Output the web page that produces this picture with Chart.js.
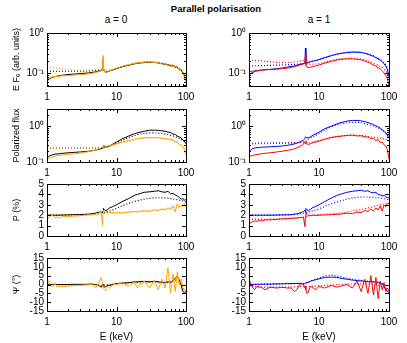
<!DOCTYPE html>
<html><head><meta charset="utf-8">
<script src="https://cdn.jsdelivr.net/npm/chart.js@4/dist/chart.umd.min.js"></script>
<style>
html,body{margin:0;padding:0;background:#fff;}
#wrap{position:relative;width:407px;height:343px;overflow:hidden;font-family:"Liberation Sans",Arial,sans-serif;}
canvas{position:absolute;left:0;top:0;}
.t{position:absolute;transform:translate(-50%,-50%);white-space:nowrap;color:#000;}
</style></head><body>
<div id="wrap">
<div class="t" style="left:216px;top:8px;font-weight:bold;font-size:9.5px">Parallel polarisation</div>
<div class="t" style="left:116px;top:19px;font-size:10px">a = 0</div>
<div class="t" style="left:319px;top:19px;font-size:10px">a = 1</div>
<canvas id="c0" width="407" height="343"></canvas>
<canvas id="c1" width="407" height="343"></canvas>
<canvas id="c2" width="407" height="343"></canvas>
<canvas id="c3" width="407" height="343"></canvas>
<canvas id="c4" width="407" height="343"></canvas>
<canvas id="c5" width="407" height="343"></canvas>
<canvas id="c6" width="407" height="343"></canvas>
<canvas id="c7" width="407" height="343"></canvas>
</div>
<script>
// ---------- energies (keV) ----------
const energy = [1,1.1,1.2,1.3,1.4,1.5,1.7, 2,2.5,3,3.5,4,4.5,5,5.5,6, 6.3,6.4,6.5,6.7,7,7.5,8,9, 10,12,15,18,20,25,30,35,40,45,50, 55,60,65,70,75,80,85,90,95,100];
const energyModel = [1,1.5,2,3,4,5,6, 6.4,7,8, 10,12,15,20,25,30, 40,50,60,70,80,90,100];

// ---------- tick values / labels ----------
const xTickValues = [1,2,3,4,5,6,7,8,9,10,20,30,40,50,60,70,80,90,100];
const xTickLabels = ['1','','','','','','','','','10','','','','','','','','','100'];
const fluxTickValues = [0.05,0.06,0.07,0.08,0.09,0.1,0.2,0.3,0.4,0.5,0.6,0.7,0.8,0.9,1];
const fluxTickLabels = ['','','','','','10\u207B\u00B9','','','','','','','','','10\u2070'];
const polFluxTickValues = [0.1,0.2,0.3,0.4,0.5,0.6,0.7,0.8,0.9,1,2,3];
const polFluxTickLabels = ['10\u207B\u00B9','','','','','','','','','10\u2070','',''];
const degTickValues = [0,1,2,3,4,5];
const degTickLabels = ['0','1','2','3','4','5'];
const angTickValues = [-15,-10,-5,0,5,10,15];
const angTickLabels = ['-15','-10','-5','0','5','10','15'];

// ---------- E F_E, a = 0 ----------
const fluxA0Black = [0.063,0.072,0.078,0.081,0.083,0.085,0.088, 0.091,0.094,0.096,0.098,0.1,0.103,0.106,0.11,0.114, 0.118,0.22,0.115,0.108,0.104,0.107,0.112,0.12, 0.128,0.142,0.156,0.168,0.175,0.182,0.185,0.183,0.178,0.17,0.165, 0.158,0.15,0.152,0.138,0.14,0.12,0.118,0.1,0.085,0.063];
const fluxA0Orange = [0.068,0.075,0.08,0.082,0.08,0.083,0.085, 0.086,0.088,0.09,0.092,0.095,0.098,0.102,0.108,0.113, 0.118,0.27,0.118,0.108,0.104,0.108,0.113,0.122, 0.13,0.145,0.16,0.172,0.178,0.186,0.188,0.182,0.18,0.168,0.168, 0.155,0.16,0.142,0.15,0.128,0.13,0.11,0.105,0.08,0.06];
const fluxA0BlackModel = [0.11,0.11,0.11,0.11,0.112,0.115,0.12, 0.125,0.11,0.115, 0.13,0.145,0.16,0.178,0.185,0.188, 0.182,0.168,0.158,0.145,0.13,0.11,0.07];
const fluxA0OrangeModel = [0.14,0.13,0.122,0.117,0.117,0.12,0.125, 0.13,0.112,0.117, 0.132,0.147,0.162,0.18,0.188,0.19, 0.184,0.17,0.158,0.145,0.128,0.108,0.07];

// ---------- E F_E, a = 1 ----------
const fluxA1Blue = [0.088,0.1,0.108,0.112,0.115,0.117,0.12, 0.123,0.128,0.133,0.14,0.145,0.15,0.158,0.165,0.172, 0.178,0.42,0.18,0.178,0.183,0.19,0.196,0.205, 0.215,0.24,0.27,0.295,0.305,0.322,0.33,0.33,0.325,0.31,0.295, 0.275,0.26,0.24,0.225,0.21,0.19,0.17,0.148,0.12,0.08];
const fluxA1Red = [0.105,0.11,0.113,0.115,0.117,0.118,0.12, 0.121,0.124,0.127,0.132,0.137,0.143,0.152,0.16,0.168, 0.175,0.29,0.155,0.142,0.137,0.138,0.142,0.15, 0.158,0.175,0.195,0.21,0.218,0.225,0.225,0.22,0.212,0.198,0.185, 0.172,0.158,0.148,0.135,0.125,0.112,0.1,0.085,0.07,0.047];
const fluxA1BlueModel = [0.15,0.152,0.155,0.158,0.162,0.166,0.172, 0.178,0.185,0.195, 0.215,0.24,0.275,0.31,0.33,0.338, 0.33,0.3,0.268,0.232,0.2,0.16,0.1];
const fluxA1RedModel = [0.21,0.2,0.19,0.18,0.185,0.195,0.205, 0.21,0.165,0.165, 0.17,0.185,0.205,0.225,0.232,0.235, 0.225,0.2,0.175,0.155,0.135,0.115,0.075];

// ---------- polarized flux, a = 0 ----------
const polFluxA0Black = [0.13,0.15,0.16,0.165,0.168,0.17,0.175, 0.18,0.186,0.19,0.195,0.2,0.207,0.215,0.225,0.235, 0.245,0.25,0.27,0.265,0.26,0.27,0.285,0.32, 0.36,0.44,0.53,0.61,0.65,0.72,0.77,0.77,0.76,0.74,0.72, 0.68,0.67,0.6,0.59,0.52,0.5,0.47,0.41,0.38,0.32];
const polFluxA0Orange = [0.115,0.13,0.14,0.145,0.15,0.152,0.158, 0.162,0.17,0.178,0.185,0.195,0.205,0.218,0.232,0.25, 0.27,0.26,0.3,0.29,0.275,0.28,0.29,0.305, 0.32,0.36,0.4,0.43,0.45,0.47,0.48,0.475,0.48,0.46,0.45, 0.44,0.43,0.41,0.37,0.35,0.31,0.3,0.26,0.22,0.16];
const polFluxA0BlackModel = [0.245,0.245,0.245,0.245,0.245,0.247,0.25, 0.25,0.258,0.28, 0.34,0.4,0.48,0.58,0.63,0.65, 0.64,0.6,0.56,0.51,0.45,0.4,0.34];
const polFluxA0OrangeModel = [0.245,0.245,0.245,0.245,0.245,0.247,0.25, 0.25,0.258,0.27, 0.31,0.345,0.39,0.44,0.46,0.47, 0.47,0.44,0.42,0.37,0.32,0.27,0.2];

// ---------- polarized flux, a = 1 ----------
const polFluxA1Blue = [0.2,0.23,0.245,0.25,0.255,0.258,0.262, 0.266,0.272,0.28,0.29,0.305,0.32,0.345,0.375,0.41, 0.45,0.5,0.5,0.48,0.47,0.5,0.54,0.61, 0.68,0.84,1.0,1.15,1.24,1.38,1.44,1.44,1.4,1.34,1.26, 1.18,1.1,1.02,0.95,0.88,0.8,0.72,0.64,0.55,0.45];
const polFluxA1Red = [0.14,0.15,0.158,0.162,0.166,0.17,0.175, 0.18,0.19,0.2,0.21,0.22,0.235,0.255,0.28,0.31, 0.37,0.33,0.34,0.32,0.31,0.32,0.34,0.36, 0.38,0.43,0.48,0.51,0.52,0.55,0.56,0.53,0.54,0.5,0.5, 0.45,0.46,0.4,0.42,0.35,0.36,0.3,0.28,0.22,0.12];
const polFluxA1BlueModel = [0.33,0.335,0.338,0.34,0.345,0.35,0.36, 0.365,0.43,0.5, 0.62,0.78,0.95,1.15,1.24,1.28, 1.26,1.12,1.0,0.9,0.76,0.64,0.5];
const polFluxA1RedModel = [0.32,0.325,0.328,0.33,0.335,0.34,0.35, 0.355,0.34,0.36, 0.4,0.44,0.49,0.53,0.55,0.56, 0.55,0.52,0.49,0.47,0.45,0.43,0.4];

// ---------- polarization degree P (%), a = 0 ----------
const polDegA0Black = [2.0,2.0,2.0,2.0,2.0,2.0,2.02, 2.03,2.05,2.06,2.08,2.1,2.15,2.2,2.28,2.35, 2.2,2.4,2.65,2.55,2.42,2.55,2.7,2.85, 3.0,3.3,3.6,3.9,4.0,4.2,4.25,4.3,4.35,4.25,4.2, 4.3,4.05,4.1,3.95,3.85,3.7,3.55,3.6,3.45,3.5];
const polDegA0Orange = [1.6,1.9,2.0,1.75,1.85,1.7,1.9, 1.85,1.92,1.95,2.0,2.02,2.05,2.1,2.12,2.4, 1.0,2.2,2.5,2.4,2.3,2.25,2.3,2.2, 2.25,2.2,2.3,2.35,2.3,2.45,2.35,2.5,2.45,2.6,2.5, 2.7,2.55,2.9,2.3,3.1,2.7,2.95,2.85,3.1,3.2];
const polDegA0BlackModel = [2.0,2.0,2.02,2.05,2.08,2.12,2.2, 2.25,2.3,2.4, 2.65,2.9,3.15,3.4,3.55,3.62, 3.68,3.66,3.6,3.52,3.45,3.38,3.3];
const polDegA0OrangeModel = [2.0,2.0,2.0,2.02,2.05,2.08,2.12, 2.15,2.2,2.22, 2.25,2.28,2.3,2.35,2.4,2.45, 2.5,2.6,2.7,2.8,2.9,3.0,3.1];

// ---------- polarization degree P (%), a = 1 ----------
const polDegA1Blue = [2.0,2.0,2.0,2.0,2.0,2.0,2.0, 2.0,2.02,2.03,2.04,2.05,2.1,2.15,2.25,2.35, 2.5,2.3,2.65,2.55,2.45,2.55,2.7,2.85, 3.0,3.3,3.65,3.9,4.0,4.2,4.3,4.35,4.4,4.3,4.35, 4.2,4.15,4.2,4.0,3.95,3.85,3.9,3.75,3.7,3.65];
const polDegA1Red = [1.15,1.35,1.45,1.4,1.5,1.45,1.55, 1.55,1.6,1.65,1.68,1.7,1.72,1.75,1.78,1.8, 0.9,1.8,2.3,2.1,1.95,1.95,2.0,1.98, 2.0,2.02,2.05,2.08,2.1,2.2,2.15,2.3,2.25,2.45,2.35, 2.6,2.4,2.7,2.5,2.9,2.4,3.0,2.8,3.1,3.15];
const polDegA1BlueModel = [2.0,2.0,2.0,2.02,2.05,2.1,2.2, 2.25,2.3,2.4, 2.6,2.85,3.1,3.35,3.55,3.65, 3.75,3.75,3.72,3.68,3.62,3.55,3.5];
const polDegA1RedModel = [1.6,1.6,1.62,1.65,1.7,1.75,1.8, 1.85,1.95,2.0, 2.05,2.1,2.15,2.2,2.3,2.4, 2.55,2.7,2.85,2.95,3.05,3.1,3.15];

// ---------- polarization angle Psi (deg), a = 0 ----------
const polAngA0Black = [0,0,0,0,0,0,0, 0,0.1,0.1,0.1,0.2,0.2,0,-0.5,-1.5, -1,0,-1,-1.5,-1.2,-0.5,-0.5,0, 0.5,0.8,1.0,1.5,1.5,1.8,1.5,1.8,1.5,1.2,1.0, 1.5,1.2,2.0,3.5,4.5,2.5,0,-4,-4.5,-4];
const polAngA0Orange = [4,0,-1.5,0.8,-1.5,-1,-1.2, -1,-0.5,-0.5,-0.3,-0.2,0.5,-2,0.5,4, 1,-1,-2,-3,-3.5,-1,-2,0, 0,1,-1,1.5,-2,2,-2,2.5,-3,3,-2, 9.5,-5,6,-4,7,0,3,-2,-3,-4];
const polAngA0BlackModel = [0,0,0,0,0,0,-0.5, -0.5,-0.5,0, 0.5,0.8,1,1.3,1.5,1.5, 1.5,1.2,1.5,2.5,1.5,-2,-4];
const polAngA0OrangeModel = [0,-0.5,-0.5,-0.3,-0.2,0,-0.8, -1,-1,-0.5, 0,0.3,0.5,0.8,1,1, 1,0.8,1,2,1,-2,-4];

// ---------- polarization angle Psi (deg), a = 1 ----------
const polAngA1Blue = [0,0,0.1,0.1,0.1,0.1,0.2, 0.2,0.3,0.4,0.5,0.5,0.6,0.6,0.5,0, 0.5,0.8,1.0,1.0,1.2,1.8,2.2,2.7, 3.2,4.0,4.2,4.0,3.6,3.0,2.5,2.2,2.0,1.8,1.5, 1.6,1.5,1.3,1.0,0.8,0.5,-1,-3,-4,-4.5];
const polAngA1Red = [3,-1,-3,-1,-1.5,-1.5,-3, -1.5,-2,-1.5,-2,-2,-4,-2,1,0, -2,-1,-3,-5,-4.5,-1,-1.5,-3, -1,-2,-0.5,-1.5,-1,0,-2,2,-4,3,-5, 5,-6,4,-8,2,-3,1,-4,-2,-3];
const polAngA1BlueModel = [0,0.2,0.3,0.4,0.5,0.6,0.5, 0.8,1.3,2.3, 3.6,4.8,5.3,4.5,3.6,3.0, 2.3,1.8,1.6,1.2,0.5,-2,-4];
const polAngA1RedModel = [-1,-1.5,-1.5,-1.5,-1.5,-1.2,-1, -1,-1,-1, -0.8,-0.5,-0.3,0,0.2,0.3, 0.3,0.2,0,-0.5,-1,-2,-3];

// ---------- colours ----------
const BLACK = '#000000', ORANGE = '#FFA500', BLUE = '#0000FF', RED = '#FF0000';
const FONT = '"Liberation Sans", Arial, sans-serif';

function series(xs, ys, color, dotted, order) {
  return {
    data: xs.map((e, i) => ({x: e, y: ys[i]})),
    borderColor: color,
    borderWidth: dotted ? 1.2 : 1,
    borderDash: dotted ? [1, 2] : [],
    pointRadius: 0, fill: false, tension: 0, order: order
  };
}

// inward ticks + frame drawn with the chart's own scales
const framePlugin = {
  id: 'frame',
  afterDatasetsDraw(chart, args, opts) {
    const ctx = chart.ctx, a = chart.chartArea;
    const xs = chart.scales.x, ys = chart.scales.y;
    ctx.save();
    ctx.strokeStyle = '#000'; ctx.lineWidth = 1;
    ctx.beginPath();
    xs.ticks.forEach((t, i) => {
      const p = Math.round(xs.getPixelForValue(t.value)) + 0.5;
      const len = opts.xLabels[i] !== '' ? 4 : 2;
      ctx.moveTo(p, a.bottom); ctx.lineTo(p, a.bottom - len);
      ctx.moveTo(p, a.top); ctx.lineTo(p, a.top + len);
    });
    ys.ticks.forEach((t, i) => {
      const p = Math.round(ys.getPixelForValue(t.value)) + 0.5;
      const len = opts.yLabels[i] !== '' ? 4 : 2;
      ctx.moveTo(a.left, p); ctx.lineTo(a.left + len, p);
      ctx.moveTo(a.right, p); ctx.lineTo(a.right - len, p);
    });
    ctx.stroke();
    ctx.strokeRect(Math.round(a.left) + 0.5, Math.round(a.top) + 0.5, Math.round(a.right - a.left), Math.round(a.bottom - a.top));
    ctx.restore();
  }
};

function makePanel(id, box, yType, yMin, yMax, yVals, yLabs, datasets, yTitle, xTitle) {
  const yW = 40, xH = xTitle ? 32 : 20;
  new Chart(document.getElementById(id), {
    type: 'line',
    data: {datasets: datasets},
    options: {
      responsive: false, animation: false, devicePixelRatio: 1,
      layout: {padding: {left: box.L - yW, top: box.T, right: 407 - box.R, bottom: 343 - box.B - xH}},
      plugins: {legend: {display: false}, tooltip: {enabled: false}, title: {display: false},
                frame: {xLabels: xTickLabels, yLabels: yLabs}},
      scales: {
        x: {
          type: 'logarithmic', min: 1, max: 100,
          afterBuildTicks: s => { s.ticks = xTickValues.map(v => ({value: v})); },
          afterFit: s => { s.height = xH; },
          grid: {display: false, drawTicks: false}, border: {display: false},
          ticks: {autoSkip: false, maxRotation: 0, minRotation: 0, padding: 5, color: '#000',
                  font: {family: FONT, size: 10},
                  callback: (v, i) => xTickLabels[i]},
          title: {display: !!xTitle, text: xTitle || '', color: '#000', padding: 0,
                  font: {family: FONT, size: 10}}
        },
        y: {
          type: yType, min: yMin, max: yMax,
          afterBuildTicks: s => { s.ticks = yVals.map(v => ({value: v})); },
          afterFit: s => { s.width = yW; },
          grid: {display: false, drawTicks: false}, border: {display: false},
          ticks: {autoSkip: false, padding: 3, color: '#000',
                  font: {family: FONT, size: 10},
                  callback: (v, i) => yLabs[i]},
          title: {display: !!yTitle, text: yTitle || '', color: '#000',
                  font: {family: FONT, size: 9}}
        }
      }
    },
    plugins: [framePlugin]
  });
}

const LEFT = {L: 47, R: 186}, RIGHT = {L: 249, R: 389};
const ROWS = [{T: 33, B: 86}, {T: 109, B: 162}, {T: 184, B: 236}, {T: 258, B: 311}];
const box = (c, r) => ({L: c.L, R: c.R, T: ROWS[r].T, B: ROWS[r].B});

makePanel('c0', box(LEFT, 0), 'logarithmic', 0.047, 1, fluxTickValues, fluxTickLabels, [
  series(energyModel, fluxA0BlackModel, BLACK, true, 3),
  series(energyModel, fluxA0OrangeModel, ORANGE, true, 2),
  series(energy, fluxA0Black, BLACK, false, 1),
  series(energy, fluxA0Orange, ORANGE, false, 0)], 'E F\u2091 (arb. units)', null);
makePanel('c1', box(RIGHT, 0), 'logarithmic', 0.047, 1, fluxTickValues, fluxTickLabels, [
  series(energyModel, fluxA1BlueModel, BLUE, true, 3),
  series(energyModel, fluxA1RedModel, RED, true, 2),
  series(energy, fluxA1Blue, BLUE, false, 1),
  series(energy, fluxA1Red, RED, false, 0)], null, null);
makePanel('c2', box(LEFT, 1), 'logarithmic', 0.1, 3, polFluxTickValues, polFluxTickLabels, [
  series(energyModel, polFluxA0BlackModel, BLACK, true, 3),
  series(energyModel, polFluxA0OrangeModel, ORANGE, true, 2),
  series(energy, polFluxA0Black, BLACK, false, 1),
  series(energy, polFluxA0Orange, ORANGE, false, 0)], 'Polarized flux', null);
makePanel('c3', box(RIGHT, 1), 'logarithmic', 0.1, 3, polFluxTickValues, polFluxTickLabels, [
  series(energyModel, polFluxA1BlueModel, BLUE, true, 3),
  series(energyModel, polFluxA1RedModel, RED, true, 2),
  series(energy, polFluxA1Blue, BLUE, false, 1),
  series(energy, polFluxA1Red, RED, false, 0)], null, null);
makePanel('c4', box(LEFT, 2), 'linear', 0, 5, degTickValues, degTickLabels, [
  series(energyModel, polDegA0BlackModel, BLACK, true, 3),
  series(energyModel, polDegA0OrangeModel, ORANGE, true, 2),
  series(energy, polDegA0Black, BLACK, false, 1),
  series(energy, polDegA0Orange, ORANGE, false, 0)], 'P (%)', null);
makePanel('c5', box(RIGHT, 2), 'linear', 0, 5, degTickValues, degTickLabels, [
  series(energyModel, polDegA1BlueModel, BLUE, true, 3),
  series(energyModel, polDegA1RedModel, RED, true, 2),
  series(energy, polDegA1Blue, BLUE, false, 1),
  series(energy, polDegA1Red, RED, false, 0)], null, null);
makePanel('c6', box(LEFT, 3), 'linear', -15, 15, angTickValues, angTickLabels, [
  series(energyModel, polAngA0BlackModel, BLACK, true, 3),
  series(energyModel, polAngA0OrangeModel, ORANGE, true, 2),
  series(energy, polAngA0Black, BLACK, false, 1),
  series(energy, polAngA0Orange, ORANGE, false, 0)], '\u03A8 (\u00B0)', 'E (keV)');
makePanel('c7', box(RIGHT, 3), 'linear', -15, 15, angTickValues, angTickLabels, [
  series(energyModel, polAngA1BlueModel, BLUE, true, 3),
  series(energyModel, polAngA1RedModel, RED, true, 2),
  series(energy, polAngA1Blue, BLUE, false, 1),
  series(energy, polAngA1Red, RED, false, 0)], null, 'E (keV)');
</script>
</body></html>
